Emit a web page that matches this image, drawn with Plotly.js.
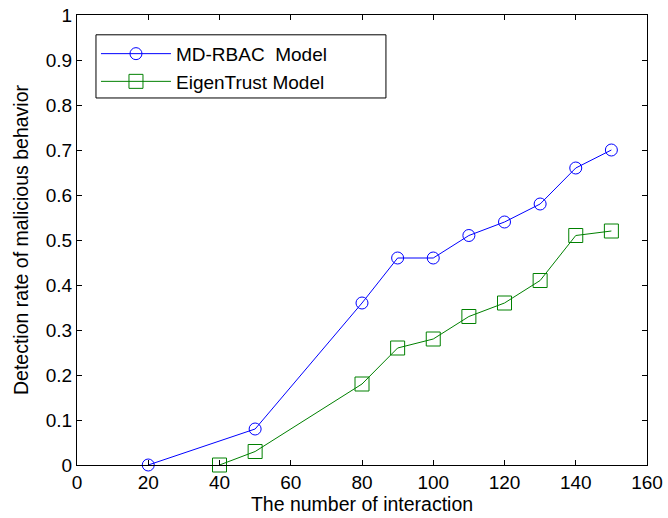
<!DOCTYPE html>
<html><head><meta charset="utf-8">
<script src="https://cdn.plot.ly/plotly-3.0.1.min.js"></script>
<style>body{margin:0;background:#fff}#c{width:668px;height:518px}</style>
</head><body><div id="c"></div>
<script>
const mdX = [20, 50, 80, 90, 100, 110, 120, 130, 140, 150];
const mdY = [0, 0.08, 0.36, 0.46, 0.46, 0.51, 0.54, 0.58, 0.66, 0.70];
const etX = [40, 50, 80, 90, 100, 110, 120, 130, 140, 150];
const etY = [0, 0.03, 0.18, 0.26, 0.28, 0.33, 0.36, 0.41, 0.51, 0.52];
const seriesNames = ['MD-RBAC  Model', 'EigenTrust Model'];

const tickFont = {family: 'Liberation Sans, Arial, sans-serif', size: 19, color: '#000'};
const titleFont = {family: 'Liberation Sans, Arial, sans-serif', size: 19.5, color: '#000'};
const traces = [
  {x: mdX, y: mdY, name: seriesNames[0], mode: 'lines+markers', cliponaxis: false,
   line: {color: '#0000ff', width: 1},
   marker: {symbol: 'circle-open', size: 12, color: '#0000ff', line: {width: 1}}},
  {x: etX, y: etY, name: seriesNames[1], mode: 'lines+markers', cliponaxis: false,
   line: {color: '#008000', width: 1},
   marker: {symbol: 'square-open', size: 14, color: '#008000', line: {width: 1}}}
];
const axisCommon = {showline: true, linecolor: '#000', linewidth: 1, mirror: 'ticks',
  ticks: 'inside', ticklen: 5, tickcolor: '#000', showgrid: false, zeroline: false,
  tickfont: tickFont};
const layout = {
  width: 668, height: 518,
  margin: {l: 77, r: 21, t: 15, b: 53},
  paper_bgcolor: '#fff', plot_bgcolor: '#fff',
  font: tickFont,
  xaxis: Object.assign({}, axisCommon, {range: [0, 160], dtick: 20, tick0: 0,
    title: {text: 'The number of interaction', font: titleFont, standoff: 5}}),
  yaxis: Object.assign({}, axisCommon, {range: [0, 1], dtick: 0.1, tick0: 0,
    title: {text: 'Detection rate of malicious behavior', font: titleFont, standoff: 11}}),
  shapes: [{type: 'rect', xref: 'paper', yref: 'paper',
    x0: 0.0333, x1: 0.542, y0: 0.8156, y1: 0.956,
    line: {color: '#000', width: 1}, fillcolor: '#fff', layer: 'above'}],
  showlegend: true,
  legend: {x: 0.0333, y: 0.956, xanchor: 'left', yanchor: 'top',
    bgcolor: 'rgba(0,0,0,0)', borderwidth: 0,
    font: tickFont, itemwidth: 70, tracegroupgap: 0}
};
Plotly.newPlot('c', traces, layout, {displayModeBar: false, staticPlot: true});
</script></body></html>
